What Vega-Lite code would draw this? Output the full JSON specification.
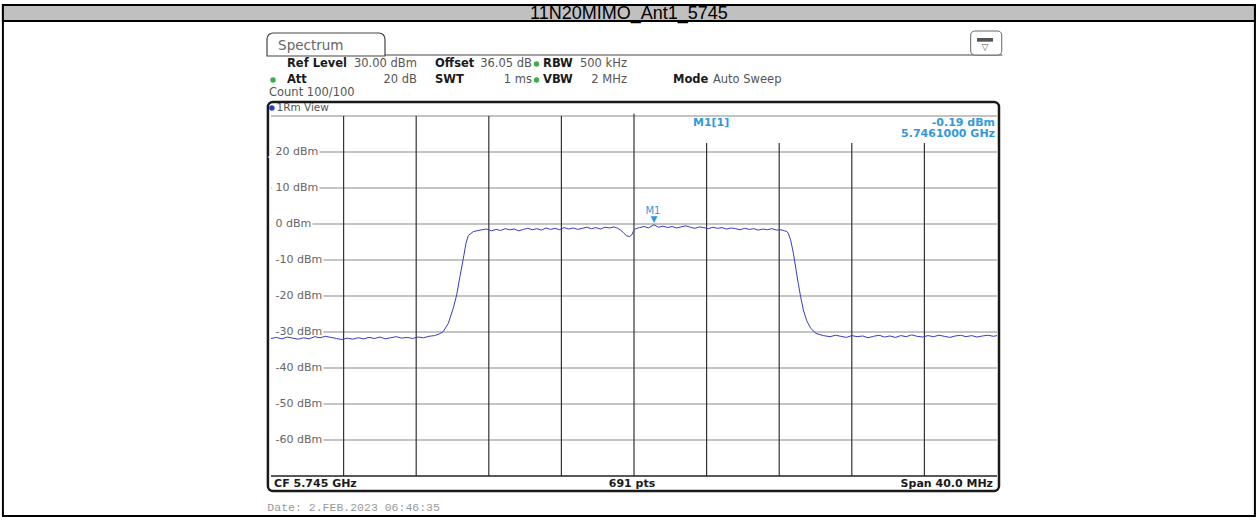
{
  "$schema": "https://vega.github.io/schema/vega-lite/v6.json",
  "width": 726,
  "height": 360,
  "autosize": {"type": "none"},
  "padding": {"left": 271, "top": 116, "right": 261, "bottom": 53},
  "background": "white",
  "config": {"view": {"stroke": null}, "font": "DejaVu Sans"},
  "datasets": {
    "outer": [{"f": 5710.23, "f2": 5779.21, "db": 60.83, "db2": -81.11}],
    "band": [{"f": 5710.23, "f2": 5779.21, "db": 60.83, "db2": 56.4}],
    "title": [{"t": "11N20MIMO_Ant1_5745", "f": 5744.72, "db": 57.05}],
    "tab": [{"f": 5724.78, "f2": 5731.28, "db": 53.06, "db2": 46.67}],
    "panelTop": [{"f": 5731.28, "f2": 5765.3, "db": 46.94}],
    "icon": [{"f": 5763.55, "f2": 5765.26, "db": 53.61, "db2": 46.94}],
    "iconInner": [{"f": 5763.9, "f2": 5764.78, "db": 51.67, "db2": 50.64}],
    "iconArrow": [{"t": "▽", "f": 5764.34, "db": 49.3}],
    "spectrum": [{"t": "Spectrum", "f": 5725.39, "db": 49.44}],
    "hdrBold": [
      {"t": "Ref Level", "f": 5725.88, "db": 44.44},
      {"t": "Offset", "f": 5734.04, "db": 44.44},
      {"t": "RBW", "f": 5739.99, "db": 44.44},
      {"t": "Att", "f": 5725.88, "db": 40.0},
      {"t": "SWT", "f": 5734.04, "db": 40.0},
      {"t": "VBW", "f": 5739.99, "db": 40.0},
      {"t": "Mode", "f": 5747.15, "db": 40.0}
    ],
    "hdrRight": [
      {"t": "30.00 dBm", "f": 5733.04, "db": 44.44},
      {"t": "36.05 dB", "f": 5739.38, "db": 44.44},
      {"t": "500 kHz", "f": 5744.61, "db": 44.44},
      {"t": "20 dB", "f": 5733.04, "db": 40.0},
      {"t": "1 ms", "f": 5739.38, "db": 40.0},
      {"t": "2 MHz", "f": 5744.61, "db": 40.0}
    ],
    "hdrLeft": [
      {"t": "Auto Sweep", "f": 5749.35, "db": 40.0},
      {"t": "Count 100/100", "f": 5724.89, "db": 36.39}
    ],
    "dots": [
      {"f": 5739.63, "db": 44.44},
      {"f": 5725.11, "db": 40.0},
      {"f": 5739.63, "db": 40.0}
    ],
    "frame": [{"f": 5724.83, "f2": 5765.11, "db": 33.89, "db2": -74.17}],
    "viewDot": [{"f": 5725.05, "db": 32.22}],
    "viewLabel": [{"t": "1Rm View", "f": 5725.3, "db": 32.22}],
    "edgeLines": [{"db": 30, "f": 5725, "f2": 5765}],
    "bottomLine": [{"db": -70, "f": 5725, "f2": 5765}],
    "hgrid": [
      {"db": 20, "t": "20 dBm", "f": 5725, "f2": 5765, "lf": 5725.25},
      {"db": 10, "t": "10 dBm", "f": 5725, "f2": 5765, "lf": 5725.25},
      {"db": 0, "t": "0 dBm", "f": 5725, "f2": 5765, "lf": 5725.25},
      {"db": -10, "t": "-10 dBm", "f": 5725, "f2": 5765, "lf": 5725.25},
      {"db": -20, "t": "-20 dBm", "f": 5725, "f2": 5765, "lf": 5725.25},
      {"db": -30, "t": "-30 dBm", "f": 5725, "f2": 5765, "lf": 5725.25},
      {"db": -40, "t": "-40 dBm", "f": 5725, "f2": 5765, "lf": 5725.25},
      {"db": -50, "t": "-50 dBm", "f": 5725, "f2": 5765, "lf": 5725.25},
      {"db": -60, "t": "-60 dBm", "f": 5725, "f2": 5765, "lf": 5725.25}
    ],
    "vgrid": [
      {"f": 5729, "db": 30, "db2": -70}, {"f": 5733, "db": 30, "db2": -70}, {"f": 5737, "db": 30, "db2": -70},
      {"f": 5741, "db": 30, "db2": -70}, {"f": 5745, "db": 30.6, "db2": -70}, {"f": 5749, "db": 22.5, "db2": -70},
      {"f": 5753, "db": 22.5, "db2": -70}, {"f": 5757, "db": 22.5, "db2": -70}, {"f": 5761, "db": 22.5, "db2": -70}
    ],
    "trace": [
      {"f": 5725.0, "db": -31.8}, {"f": 5725.3, "db": -31.5}, {"f": 5725.6, "db": -31.9}, {"f": 5725.9, "db": -31.4},
      {"f": 5726.2, "db": -31.7}, {"f": 5726.5, "db": -32.0}, {"f": 5726.8, "db": -31.6}, {"f": 5727.1, "db": -31.9},
      {"f": 5727.4, "db": -31.3}, {"f": 5727.7, "db": -31.6}, {"f": 5728.0, "db": -31.2}, {"f": 5728.3, "db": -31.5},
      {"f": 5728.6, "db": -31.8}, {"f": 5728.9, "db": -32.1}, {"f": 5729.2, "db": -31.7}, {"f": 5729.5, "db": -32.0},
      {"f": 5729.8, "db": -31.6}, {"f": 5730.1, "db": -31.9}, {"f": 5730.4, "db": -31.5}, {"f": 5730.7, "db": -31.8},
      {"f": 5731.0, "db": -31.4}, {"f": 5731.3, "db": -31.9}, {"f": 5731.6, "db": -31.6}, {"f": 5731.9, "db": -31.3},
      {"f": 5732.2, "db": -31.7}, {"f": 5732.5, "db": -31.5}, {"f": 5732.8, "db": -31.8}, {"f": 5733.1, "db": -31.4},
      {"f": 5733.4, "db": -31.6}, {"f": 5733.7, "db": -31.2}, {"f": 5734.0, "db": -31.0}, {"f": 5734.25, "db": -30.6},
      {"f": 5734.49, "db": -29.9}, {"f": 5734.77, "db": -27.6}, {"f": 5735.04, "db": -23.4}, {"f": 5735.23, "db": -19.7},
      {"f": 5735.41, "db": -14.6}, {"f": 5735.6, "db": -9.5}, {"f": 5735.74, "db": -5.4}, {"f": 5735.87, "db": -3.2},
      {"f": 5736.15, "db": -2.1}, {"f": 5736.52, "db": -1.7}, {"f": 5736.88, "db": -1.4}, {"f": 5737.15, "db": -1.9},
      {"f": 5737.4, "db": -1.5}, {"f": 5737.65, "db": -1.8}, {"f": 5737.9, "db": -1.3}, {"f": 5738.15, "db": -1.6},
      {"f": 5738.4, "db": -1.4}, {"f": 5738.65, "db": -1.9}, {"f": 5738.9, "db": -1.5}, {"f": 5739.15, "db": -1.2},
      {"f": 5739.4, "db": -1.6}, {"f": 5739.65, "db": -1.3}, {"f": 5739.9, "db": -1.7}, {"f": 5740.15, "db": -1.1},
      {"f": 5740.4, "db": -1.5}, {"f": 5740.65, "db": -1.2}, {"f": 5740.9, "db": -1.6}, {"f": 5741.15, "db": -1.0},
      {"f": 5741.4, "db": -1.4}, {"f": 5741.65, "db": -1.1}, {"f": 5741.9, "db": -1.5}, {"f": 5742.15, "db": -1.2},
      {"f": 5742.4, "db": -0.9}, {"f": 5742.65, "db": -1.3}, {"f": 5742.9, "db": -1.0}, {"f": 5743.15, "db": -1.4},
      {"f": 5743.4, "db": -0.9}, {"f": 5743.65, "db": -1.1}, {"f": 5743.9, "db": -0.8}, {"f": 5744.1, "db": -1.2},
      {"f": 5744.3, "db": -1.8}, {"f": 5744.45, "db": -2.6}, {"f": 5744.6, "db": -3.3}, {"f": 5744.75, "db": -3.5},
      {"f": 5744.88, "db": -3.0}, {"f": 5744.98, "db": -1.9}, {"f": 5745.1, "db": -1.3}, {"f": 5745.3, "db": -1.0},
      {"f": 5745.55, "db": -0.7}, {"f": 5745.8, "db": -1.1}, {"f": 5746.1, "db": -0.19}, {"f": 5746.35, "db": -0.9},
      {"f": 5746.6, "db": -0.6}, {"f": 5746.85, "db": -1.0}, {"f": 5747.1, "db": -0.7}, {"f": 5747.35, "db": -1.1},
      {"f": 5747.6, "db": -0.8}, {"f": 5747.85, "db": -0.5}, {"f": 5748.1, "db": -0.9}, {"f": 5748.35, "db": -1.2},
      {"f": 5748.6, "db": -0.8}, {"f": 5748.85, "db": -1.0}, {"f": 5749.1, "db": -1.3}, {"f": 5749.35, "db": -0.9},
      {"f": 5749.6, "db": -1.2}, {"f": 5749.85, "db": -1.0}, {"f": 5750.1, "db": -1.4}, {"f": 5750.35, "db": -1.1},
      {"f": 5750.6, "db": -1.3}, {"f": 5750.85, "db": -1.6}, {"f": 5751.1, "db": -1.2}, {"f": 5751.35, "db": -1.5},
      {"f": 5751.6, "db": -1.3}, {"f": 5751.85, "db": -1.7}, {"f": 5752.1, "db": -1.4}, {"f": 5752.35, "db": -1.6},
      {"f": 5752.6, "db": -1.3}, {"f": 5752.85, "db": -1.7}, {"f": 5753.1, "db": -1.6}, {"f": 5753.3, "db": -1.9},
      {"f": 5753.43, "db": -2.1}, {"f": 5753.5, "db": -2.6}, {"f": 5753.63, "db": -4.4}, {"f": 5753.78, "db": -8.1},
      {"f": 5753.93, "db": -12.8}, {"f": 5754.05, "db": -16.5}, {"f": 5754.18, "db": -20.2}, {"f": 5754.33, "db": -23.9},
      {"f": 5754.52, "db": -26.9}, {"f": 5754.74, "db": -29.0}, {"f": 5755.03, "db": -30.4}, {"f": 5755.43, "db": -31.0},
      {"f": 5755.8, "db": -31.3}, {"f": 5756.1, "db": -30.9}, {"f": 5756.4, "db": -31.2}, {"f": 5756.7, "db": -31.5},
      {"f": 5757.0, "db": -31.0}, {"f": 5757.3, "db": -31.3}, {"f": 5757.6, "db": -31.1}, {"f": 5757.9, "db": -31.6},
      {"f": 5758.2, "db": -31.2}, {"f": 5758.5, "db": -30.9}, {"f": 5758.8, "db": -31.4}, {"f": 5759.1, "db": -31.1},
      {"f": 5759.4, "db": -31.5}, {"f": 5759.7, "db": -31.0}, {"f": 5760.0, "db": -31.3}, {"f": 5760.3, "db": -30.8},
      {"f": 5760.6, "db": -31.2}, {"f": 5760.9, "db": -31.4}, {"f": 5761.2, "db": -31.0}, {"f": 5761.5, "db": -31.3},
      {"f": 5761.8, "db": -30.9}, {"f": 5762.1, "db": -31.2}, {"f": 5762.4, "db": -31.5}, {"f": 5762.7, "db": -31.1},
      {"f": 5763.0, "db": -30.9}, {"f": 5763.3, "db": -31.3}, {"f": 5763.6, "db": -31.0}, {"f": 5763.9, "db": -31.4},
      {"f": 5764.2, "db": -31.1}, {"f": 5764.5, "db": -30.9}, {"f": 5764.8, "db": -31.2}, {"f": 5765.0, "db": -31.0}
    ],
    "marker": [{"f": 5746.1, "db": -0.19, "t": "M1"}],
    "mInfoLeft": [{"t": "M1[1]", "f": 5748.25, "db": 28.06}],
    "mInfoRight": [
      {"t": "-0.19 dBm", "f": 5764.89, "db": 28.06},
      {"t": "5.7461000 GHz", "f": 5764.89, "db": 25.0}
    ],
    "barLeft": [{"t": "CF 5.745 GHz", "f": 5725.17, "db": -72.22}],
    "barCenter": [{"t": "691 pts", "f": 5744.89, "db": -72.22}],
    "barRight": [{"t": "Span 40.0 MHz", "f": 5764.78, "db": -72.22}],
    "date": [{"t": "Date: 2.FEB.2023  06:46:35", "f": 5724.8, "db": -79.0}]
  },
  "encoding": {
    "x": {"field": "f", "type": "quantitative", "scale": {"domain": [5725, 5765], "nice": false, "zero": false}, "axis": null},
    "y": {"field": "db", "type": "quantitative", "scale": {"domain": [-70, 30], "nice": false, "zero": false}, "axis": null}
  },
  "layer": [
    {"data": {"name": "outer"}, "mark": {"type": "rect", "fill": "white", "stroke": "#000000", "strokeWidth": 2},
     "encoding": {"x2": {"field": "f2"}, "y2": {"field": "db2"}}},
    {"data": {"name": "band"}, "mark": {"type": "rect", "fill": "#c0c0c0", "stroke": "#000000", "strokeWidth": 2},
     "encoding": {"x2": {"field": "f2"}, "y2": {"field": "db2"}}},
    {"data": {"name": "title"}, "mark": {"type": "text", "font": "Liberation Sans", "fontSize": 18, "align": "center", "baseline": "alphabetic", "color": "#000000"},
     "encoding": {"text": {"field": "t"}}},
    {"data": {"name": "tab"}, "mark": {"type": "rect", "fill": "white", "stroke": "#444444", "strokeWidth": 1.2, "cornerRadiusTopLeft": 6, "cornerRadiusTopRight": 6},
     "encoding": {"x2": {"field": "f2"}, "y2": {"field": "db2"}}},
    {"data": {"name": "panelTop"}, "mark": {"type": "rule", "color": "#444444", "strokeWidth": 1.2},
     "encoding": {"x2": {"field": "f2"}}},
    {"data": {"name": "icon"}, "mark": {"type": "rect", "fill": "white", "stroke": "#666666", "strokeWidth": 1, "cornerRadius": 4},
     "encoding": {"x2": {"field": "f2"}, "y2": {"field": "db2"}}},
    {"data": {"name": "iconInner"}, "mark": {"type": "rect", "fill": "#555555"},
     "encoding": {"x2": {"field": "f2"}, "y2": {"field": "db2"}}},
    {"data": {"name": "iconArrow"}, "mark": {"type": "text", "fontSize": 9, "align": "center", "baseline": "middle", "color": "#555555"},
     "encoding": {"text": {"field": "t"}}},
    {"data": {"name": "spectrum"}, "mark": {"type": "text", "fontSize": 13.5, "align": "left", "baseline": "middle", "color": "#666666"},
     "encoding": {"text": {"field": "t"}}},
    {"data": {"name": "hdrBold"}, "mark": {"type": "text", "fontSize": 11.5, "fontWeight": "bold", "align": "left", "baseline": "middle", "color": "#1a1a1a"},
     "encoding": {"text": {"field": "t"}}},
    {"data": {"name": "hdrRight"}, "mark": {"type": "text", "fontSize": 11.5, "align": "right", "baseline": "middle", "color": "#555555"},
     "encoding": {"text": {"field": "t"}}},
    {"data": {"name": "hdrLeft"}, "mark": {"type": "text", "fontSize": 11.5, "align": "left", "baseline": "middle", "color": "#555555"},
     "encoding": {"text": {"field": "t"}}},
    {"data": {"name": "dots"}, "mark": {"type": "point", "shape": "circle", "filled": true, "size": 30, "color": "#3fae49", "opacity": 1}},
    {"data": {"name": "frame"}, "mark": {"type": "rect", "fill": "white", "stroke": "#1a1a1a", "strokeWidth": 2.5, "cornerRadius": 5},
     "encoding": {"x2": {"field": "f2"}, "y2": {"field": "db2"}}},
    {"data": {"name": "viewDot"}, "mark": {"type": "point", "shape": "circle", "filled": true, "size": 30, "color": "#2a3bd0", "opacity": 1}},
    {"data": {"name": "viewLabel"}, "mark": {"type": "text", "fontSize": 10.5, "align": "left", "baseline": "middle", "color": "#555555"},
     "encoding": {"text": {"field": "t"}}},
    {"data": {"name": "edgeLines"}, "mark": {"type": "rule", "color": "#888888", "strokeWidth": 1.2},
     "encoding": {"x2": {"field": "f2"}}},
    {"data": {"name": "hgrid"}, "mark": {"type": "rule", "color": "#8a8a8a", "strokeWidth": 1.2},
     "encoding": {"x2": {"field": "f2"}}},
    {"data": {"name": "vgrid"}, "mark": {"type": "rule", "color": "#333333", "strokeWidth": 1.2},
     "encoding": {"y2": {"field": "db2"}}},
    {"data": {"name": "bottomLine"}, "mark": {"type": "rule", "color": "#222222", "strokeWidth": 1.5},
     "encoding": {"x2": {"field": "f2"}}},
    {"data": {"name": "hgrid"}, "mark": {"type": "text", "fontSize": 11, "align": "left", "baseline": "middle", "dx": -1.5, "color": "white", "stroke": "white", "strokeWidth": 7},
     "encoding": {"x": {"field": "lf", "type": "quantitative"}, "text": {"field": "t"}}},
    {"data": {"name": "trace"}, "mark": {"type": "line", "color": "#3a3ac8", "strokeWidth": 1, "interpolate": "linear"}},
    {"data": {"name": "hgrid"}, "mark": {"type": "text", "fontSize": 11, "align": "left", "baseline": "middle", "color": "#666666"},
     "encoding": {"x": {"field": "lf", "type": "quantitative"}, "text": {"field": "t"}}},
    {"data": {"name": "marker"}, "mark": {"type": "text", "fontSize": 9, "align": "center", "baseline": "bottom", "dy": -1, "color": "#3399dd"},
     "encoding": {"text": {"value": "▼"}}},
    {"data": {"name": "marker"}, "mark": {"type": "text", "fontSize": 10, "align": "center", "baseline": "bottom", "dy": -9, "dx": -1, "color": "#3399dd"},
     "encoding": {"text": {"field": "t"}}},
    {"data": {"name": "mInfoLeft"}, "mark": {"type": "text", "fontSize": 11, "fontWeight": "bold", "align": "left", "baseline": "middle", "color": "#3399dd"},
     "encoding": {"text": {"field": "t"}}},
    {"data": {"name": "mInfoRight"}, "mark": {"type": "text", "fontSize": 11, "fontWeight": "bold", "align": "right", "baseline": "middle", "color": "#3399dd"},
     "encoding": {"text": {"field": "t"}}},
    {"data": {"name": "barLeft"}, "mark": {"type": "text", "fontSize": 11, "fontWeight": "bold", "align": "left", "baseline": "middle", "color": "#1a1a1a"},
     "encoding": {"text": {"field": "t"}}},
    {"data": {"name": "barCenter"}, "mark": {"type": "text", "fontSize": 11, "fontWeight": "bold", "align": "center", "baseline": "middle", "color": "#1a1a1a"},
     "encoding": {"text": {"field": "t"}}},
    {"data": {"name": "barRight"}, "mark": {"type": "text", "fontSize": 11, "fontWeight": "bold", "align": "right", "baseline": "middle", "color": "#1a1a1a"},
     "encoding": {"text": {"field": "t"}}},
    {"data": {"name": "date"}, "mark": {"type": "text", "font": "Liberation Mono", "fontSize": 11.5, "align": "left", "baseline": "middle", "color": "#999999"},
     "encoding": {"text": {"field": "t"}}}
  ]
}
